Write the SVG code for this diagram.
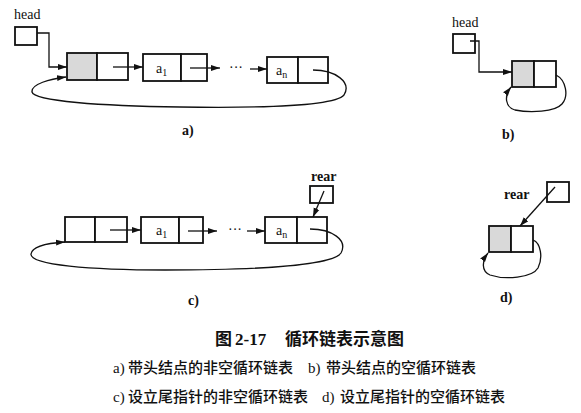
<svg xmlns="http://www.w3.org/2000/svg" width="581" height="413" viewBox="0 0 581 413">
<defs>
<marker id="ah" markerUnits="userSpaceOnUse" markerWidth="10" markerHeight="8" refX="9" refY="3.5" orient="auto">
<path d="M0,0.5 L9,3.5 L0,6.5 Z" fill="#111"/>
</marker>
</defs>
<style>
.box{fill:#fff;stroke:#111;stroke-width:1.8}
.sh{fill:#d9d9d9;stroke:#111;stroke-width:1.8}
.ln{fill:none;stroke:#111;stroke-width:1.3}
.lbl{font-family:"Liberation Serif",serif;font-size:14px;fill:#111}
.pl{font-family:"Liberation Serif",serif;font-size:14px;font-weight:bold;fill:#111}
.nt{font-family:"Liberation Serif",serif;font-size:14px;fill:#111}
.sub{font-size:10px}
.cap{font-family:"Liberation Serif","Noto Sans CJK SC",serif;font-size:15px;font-weight:500;fill:#111}
.ttl{font-family:"Liberation Serif","Noto Sans CJK SC",serif;font-size:17px;font-weight:bold;fill:#111}
</style>
<rect width="581" height="413" fill="#fff"/>

<!-- a) -->
<g id="a-head">
<text class="lbl" x="14" y="19">head</text>
<rect class="box" x="15" y="27" width="22" height="18"/>
</g>
<g id="a-node0">
<rect class="sh" x="67" y="53" width="30" height="27"/>
<rect class="box" x="97" y="53" width="31" height="27"/>
</g>
<g id="a-node1">
<rect class="box" x="143" y="54" width="38" height="27"/>
<rect class="box" x="181" y="54" width="26" height="27"/>
<text class="nt" x="156" y="73">a<tspan class="sub" dy="3">1</tspan></text>
</g>
<g id="a-dots"><text class="nt" x="229" y="72">···</text></g>
<g id="a-noden">
<rect class="box" x="267" y="57" width="31" height="26"/>
<rect class="box" x="298" y="57" width="30" height="26"/>
<text class="nt" x="276" y="75">a<tspan class="sub" dy="3">n</tspan></text>
</g>
<text class="pl" x="182" y="135">a)</text>

<!-- b) -->
<g id="b-head">
<text class="lbl" x="452" y="27">head</text>
<rect class="box" x="453" y="34" width="22" height="19"/>
</g>
<g id="b-node">
<rect class="sh" x="512" y="61" width="22" height="26"/>
<rect class="box" x="534" y="61" width="22" height="26"/>
</g>
<text class="pl" x="502" y="139">b)</text>

<!-- c) -->
<g id="c-rear">
<text class="pl" x="311" y="181" font-size="13">rear</text>
<rect class="box" x="310" y="186" width="23" height="17"/>
</g>
<g id="c-node0">
<rect class="box" x="65" y="217" width="30" height="25"/>
<rect class="box" x="95" y="217" width="32" height="25"/>
</g>
<g id="c-node1">
<rect class="box" x="141" y="217" width="38" height="26"/>
<rect class="box" x="179" y="217" width="24" height="26"/>
<text class="nt" x="156" y="235">a<tspan class="sub" dy="3">1</tspan></text>
</g>
<g id="c-dots"><text class="nt" x="228" y="234">···</text></g>
<g id="c-noden">
<rect class="box" x="265" y="217" width="32" height="26"/>
<rect class="box" x="297" y="217" width="30" height="26"/>
<text class="nt" x="276" y="235">a<tspan class="sub" dy="3">n</tspan></text>
</g>
<text class="pl" x="188" y="305">c)</text>

<!-- d) -->
<g id="d-rear">
<text class="pl" x="504" y="199" font-size="13">rear</text>
<rect class="box" x="547" y="182" width="22" height="20"/>
</g>
<g id="d-node">
<rect class="sh" x="489" y="226" width="22" height="26"/>
<rect class="box" x="511" y="226" width="22" height="26"/>
</g>
<text class="pl" x="500" y="302">d)</text>

<g id="connectors">
<path class="ln" d="M37,33 H49 V67 H67" marker-end="url(#ah)"/>
<path class="ln" d="M113,67 H143" marker-end="url(#ah)"/>
<path class="ln" d="M190,68 H220" marker-end="url(#ah)"/>
<path class="ln" d="M250,69 H267" marker-end="url(#ah)"/>
<path class="ln" d="M313,70 C335,70 352,82 344,95 C334,107 250,108 180,107 C100,106 34,101 32,92 C31,84 50,79 66,77" marker-end="url(#ah)"/>

<path class="ln" d="M470,41 H479 V72 H512" marker-end="url(#ah)"/>
<path class="ln" d="M556,75 C566,80 569,96 562,104 C555,112 530,113 515,110 C505,107 504,96 511,87" marker-end="url(#ah)"/>

<path class="ln" d="M324,191 L313,217" marker-end="url(#ah)"/>
<path class="ln" d="M110,230 H141" marker-end="url(#ah)"/>
<path class="ln" d="M188,231 H217" marker-end="url(#ah)"/>
<path class="ln" d="M247,231 H265" marker-end="url(#ah)"/>
<path class="ln" d="M310,229 C332,229 348,240 341,253 C332,266 250,270 165,270 C90,270 30,265 31,254 C32,246 50,243 65,242" marker-end="url(#ah)"/>

<path class="ln" d="M555,187 L520,226" marker-end="url(#ah)"/>
<path class="ln" d="M533,240 C541,243 543,258 538,268 C532,278 505,280 490,275 C481,271 482,261 488,253" marker-end="url(#ah)"/>
</g>

<!-- caption -->
<text class="ttl" y="345"><tspan x="215">图</tspan><tspan x="235">2-17</tspan><tspan x="285">循环链表示意图</tspan></text>
<text class="cap" y="373"><tspan x="113">a)</tspan><tspan x="128">带头结点的非空循环链表</tspan><tspan x="308">b)</tspan><tspan x="326">带头结点的空循环链表</tspan></text>
<text class="cap" y="402"><tspan x="113">c)</tspan><tspan x="128">设立尾指针的非空循环链表</tspan><tspan x="322">d)</tspan><tspan x="340">设立尾指针的空循环链表</tspan></text>
</svg>
